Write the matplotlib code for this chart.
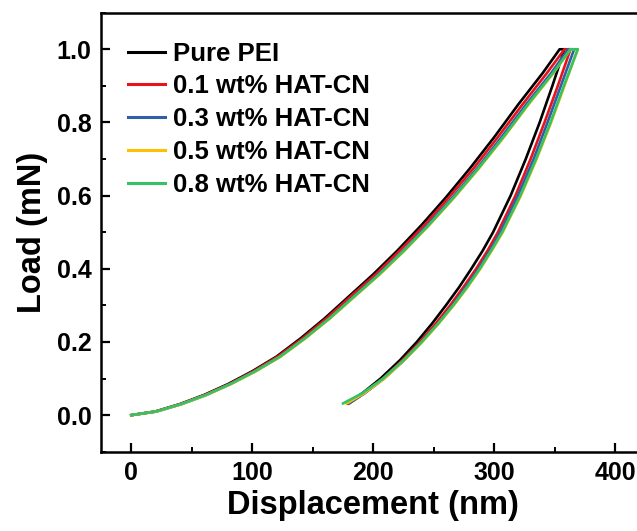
import matplotlib
matplotlib.use("Agg")
import matplotlib.pyplot as plt
from matplotlib.ticker import MultipleLocator, FormatStrFormatter

plt.rcParams["font.family"] = ["Liberation Sans", "DejaVu Sans"]
plt.rcParams["font.weight"] = "bold"

# load levels (mN) shared by every sample
LOAD_UP = [0, 0.01, 0.03, 0.055, 0.085, 0.12, 0.16, 0.21, 0.265, 0.325,
           0.385, 0.45, 0.52, 0.595, 0.675, 0.76, 0.85, 0.935, 1.0]
LOAD_DOWN = [1.0, 0.9, 0.8, 0.7, 0.6, 0.5, 0.45, 0.4, 0.35, 0.3, 0.25,
             0.2, 0.15, 0.1, 0.06, 0.032]

labels = ["Pure PEI", "0.1 wt% HAT-CN", "0.3 wt% HAT-CN",
          "0.5 wt% HAT-CN", "0.8 wt% HAT-CN"]
colors = ["#000000", "#E8141A", "#2F5FA5", "#FFC000", "#35C266"]

# displacement (nm) on loading, at LOAD_UP
up_pei = [0, 20, 40, 60, 80, 100, 120, 140, 160, 180, 200, 220, 240, 260,
          280, 300, 320, 340, 354]
up_01 = [0, 20, 40.5, 60.5, 81, 101, 121, 141.5, 161.5, 181.5, 202, 222,
         242.5, 262.5, 283, 303, 323.5, 343.5, 358]
up_03 = [0, 21, 41.5, 62, 82, 102.5, 123, 143.5, 164, 184, 204.5, 225, 245,
         265.5, 286, 306, 326.5, 347, 361]
up_05 = [0, 21, 41.5, 62, 82.5, 103, 123.5, 144, 164.5, 185, 205.5, 226,
         246.5, 267, 287.5, 308, 328.5, 349, 363]
up_08 = [0, 20.5, 41, 61.5, 82, 102.5, 123, 143.5, 164, 184.5, 205, 225.5,
         246, 266.5, 287, 307.5, 328, 348.5, 363]

# displacement (nm) on unloading, at LOAD_DOWN
dn_pei = [358, 348, 337.5, 326, 313.5, 299, 290.5, 281, 271, 260, 248.5,
          236, 222, 206, 191, 178.5]
dn_01 = [363, 352.5, 341.5, 330, 317.5, 303, 294.5, 285, 274.5, 263.5,
         251.5, 238.5, 224, 208, 192.5, 180]
dn_03 = [366, 355, 344, 332.5, 319.5, 305, 296.5, 287, 276.5, 265.5,
         253.5, 240, 225.5, 209, 193, 180]
dn_05 = [369, 358, 347, 335, 322, 307, 298, 288.5, 278, 266.5, 254,
         240.5, 225.5, 209, 192.5, 178]
dn_08 = [369, 357.5, 346.5, 334.5, 321.5, 306.5, 297.5, 288, 277.5, 266,
         253.5, 240, 225, 208, 191, 175]

ups = [up_pei, up_01, up_03, up_05, up_08]
dns = [dn_pei, dn_01, dn_03, dn_05, dn_08]

fig = plt.figure(figsize=(6.37, 5.31), dpi=100)
ax = fig.add_axes([0.1586, 0.1493, 0.8548, 0.8268])

for lab, col, u, d in zip(labels, colors, ups, dns):
    xs = list(u) + list(d)
    ys = list(LOAD_UP) + list(LOAD_DOWN)
    ax.plot(xs, ys, color=col, lw=1.9, label=lab, solid_joinstyle="round")

ax.set_xlim(-25, 425)
ax.set_ylim(-0.1, 1.1)
ax.xaxis.set_major_locator(MultipleLocator(100))
ax.xaxis.set_minor_locator(MultipleLocator(50))
ax.yaxis.set_major_locator(MultipleLocator(0.2))
ax.yaxis.set_minor_locator(MultipleLocator(0.1))
ax.yaxis.set_major_formatter(FormatStrFormatter("%.1f"))

for s in ax.spines.values():
    s.set_linewidth(1.8)
ax.tick_params(which="major", direction="in", length=6.5, width=1.6,
               labelsize=18, pad=7)
ax.tick_params(which="minor", direction="in", length=3.5, width=1.4)
for t in ax.get_xticklabels() + ax.get_yticklabels():
    t.set_fontweight("bold")

ax.set_xlabel("Displacement (nm)", fontsize=23.5, fontweight="bold",
              labelpad=3)
ax.set_ylabel("Load (mN)", fontsize=23.5, fontweight="bold", labelpad=6)

leg = ax.legend(loc="upper left", bbox_to_anchor=(0.049, 0.934),
                frameon=False, fontsize=18.5, handlelength=1.45,
                handletextpad=0.3, labelspacing=0.34, borderpad=0,
                borderaxespad=0)
for line in leg.get_lines():
    line.set_linewidth(2.2)

fig.savefig("out.png", dpi=100)
